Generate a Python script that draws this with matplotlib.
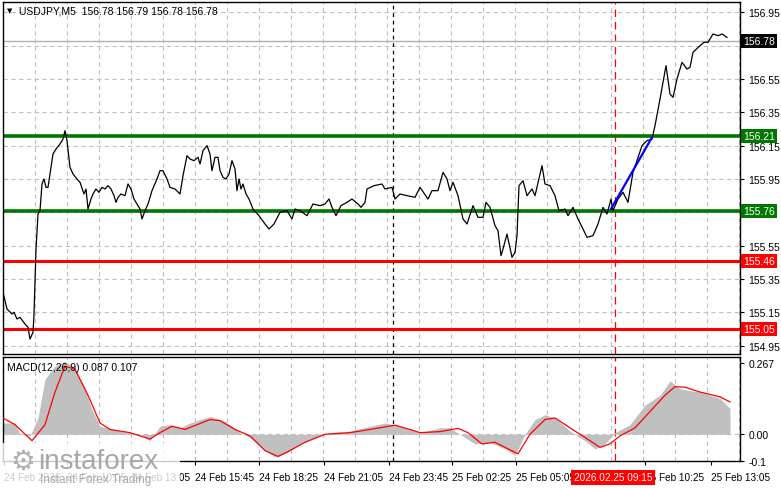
import numpy as np
import matplotlib.pyplot as plt
from matplotlib.patches import Rectangle

plt.rcParams['font.family'] = ['Liberation Sans', 'DejaVu Sans']

# === Price data (bar index, close) ===
bars = [1.5, 3.5, 6, 7, 8.5, 10, 12.5, 14, 15, 16.5, 17, 18, 19, 20, 21, 22, 23, 24, 25, 26.5,
        28, 30, 31.5, 32.5, 33.5, 35, 36.5, 38.5, 40, 42, 43, 44, 45.5, 46.5, 48, 49.5, 51, 52.5,
        54, 55.5, 57, 58, 59, 60.5, 62.5, 64, 65.5, 67, 68.5, 70, 71, 72.5, 74, 76, 78.5, 80, 81.5,
        83.5, 85, 87.5, 90, 91.5, 93.5, 95, 97, 99, 100, 101.5, 103.5, 105, 106, 107.5, 109, 110,
        111.5, 113, 114.5, 116, 117.5, 118.5, 119.5, 120.5, 121.5, 123, 124.5, 126.5, 129.5, 132.5,
        134.5, 137, 140, 143.5, 146, 147.5, 150, 153.5, 156.5, 160, 162.5, 164.5, 166, 168, 170.5,
        173.5, 176, 179, 180.5, 182.5, 183.5, 187, 191, 192.5, 196, 197.5, 200, 203.5, 207.5, 210,
        214, 216, 219, 221.5, 223.5, 225, 226.5, 229, 231.5, 233.5, 236.5, 239, 241.5, 243, 245,
        247.5, 249, 250.5, 251.5, 253.5, 256, 257.5, 258.5, 259.5, 261.5, 263.5, 266, 267.5, 271,
        272.5, 275, 277.5, 279.5, 282.5, 284, 286.5, 289, 291.5, 293.5, 296.5, 299, 301.5, 303.5,
        305.5, 306.5, 309, 311.5, 314, 316.5, 321, 323.5, 326, 327.5, 330, 333, 335, 336.5, 338.5,
        341, 343.5, 345, 346.5, 350, 352, 354, 356.5, 359, 361, 363.5]
close = [155.27, 155.17, 155.14, 155.15, 155.11, 155.12, 155.08, 155.06, 154.99, 155.03, 155.14,
         155.53, 155.74, 155.76, 155.92, 155.95, 155.90, 155.90, 155.98, 156.10, 156.13, 156.16,
         156.19, 156.24, 156.18, 156.02, 155.98, 155.95, 155.93, 155.86, 155.89, 155.77, 155.83,
         155.86, 155.89, 155.87, 155.90, 155.89, 155.91, 155.89, 155.85, 155.81, 155.84, 155.86,
         155.85, 155.92, 155.89, 155.83, 155.80, 155.77, 155.71, 155.76, 155.80, 155.88, 155.95,
         156.00, 156.00, 155.95, 155.90, 155.89, 155.86, 155.97, 156.09, 156.07, 156.06, 156.08,
         156.04, 156.12, 156.15, 156.10, 156.00, 156.08, 156.08, 156.00, 155.96, 155.95, 155.98,
         156.06, 156.01, 155.88, 155.95, 155.89, 155.92, 155.86, 155.83, 155.77, 155.73, 155.68,
         155.65, 155.68, 155.75, 155.76, 155.71, 155.77, 155.76, 155.73, 155.80, 155.79, 155.80,
         155.83, 155.78, 155.73, 155.79, 155.81, 155.83, 155.80, 155.78, 155.81, 155.89, 155.91,
         155.92, 155.89, 155.90, 155.83, 155.86, 155.85, 155.84, 155.90, 155.83, 155.88, 155.88,
         155.99, 155.95, 155.88, 155.93, 155.85, 155.71, 155.68, 155.79, 155.72, 155.72, 155.81,
         155.78, 155.67, 155.64, 155.49, 155.53, 155.62, 155.48, 155.51, 155.61, 155.91, 155.94,
         155.85, 155.89, 155.85, 156.03, 155.92, 155.91, 155.85, 155.76, 155.77, 155.73, 155.78,
         155.71, 155.65, 155.60, 155.61, 155.68, 155.78, 155.74, 155.83, 155.76, 155.83, 155.87,
         155.81, 155.99, 156.15, 156.18, 156.19, 156.27, 156.43, 156.63, 156.46, 156.44, 156.55,
         156.65, 156.61, 156.62, 156.71, 156.75, 156.77, 156.77, 156.82, 156.81, 156.82, 156.80]

# === MACD (bar index, value) ===
hist_bars = [0, 7.5, 10, 15, 19, 22.5, 27.5, 32.5, 37.5, 42.5, 46, 50, 60, 70, 75, 80, 85, 90, 95,
             105, 112.5, 120, 125, 132.5, 137.5, 142.5, 150, 157.5, 165, 175, 185, 192.5, 200, 210,
             220, 225, 232.5, 237.5, 245, 252.5, 257.5, 262.5, 267.5, 272.5, 277.5, 285, 292.5,
             297.5, 302.5, 307.5, 315, 322.5, 330, 335, 340, 350, 360, 365]
hist_vals = [0.042, 0.042, 0.0, -0.006, 0.061, 0.206, 0.255, 0.273, 0.249, 0.170, 0.091, 0.030,
             0.012, 0.0, -0.024, 0.030, 0.036, 0.024, 0.042, 0.067, 0.049, 0.006, -0.012, -0.061,
             -0.085, -0.073, -0.036, -0.012, 0.006, 0.012, 0.030, 0.042, 0.030, 0.006, 0.024, 0.024,
             -0.012, -0.036, -0.030, -0.055, -0.079, 0.0, 0.055, 0.073, 0.061, 0.012, -0.024,
             -0.055, -0.036, 0.006, 0.036, 0.109, 0.146, 0.200, 0.170, 0.158, 0.134, 0.097]
sig_bars = [0, 7.5, 16, 22.5, 27.5, 32.5, 37.5, 44, 50, 55, 65, 75, 80, 86, 92.5, 105, 110, 117.5,
            125, 132.5, 139, 145, 152.5, 162.5, 175, 185, 197.5, 205, 210, 220, 229, 234, 241,
            247.5, 252.5, 259, 265, 272.5, 277.5, 285, 292.5, 300, 305, 310, 317.5, 325, 332.5,
            337.5, 342.5, 350, 360, 365]
sig_vals = [0.067, 0.036, -0.024, 0.036, 0.158, 0.255, 0.243, 0.146, 0.042, 0.018, 0.006, -0.018,
            0.006, 0.030, 0.018, 0.055, 0.051, 0.018, -0.006, -0.061, -0.083, -0.061, -0.030, 0.0,
            0.006, 0.018, 0.034, 0.018, 0.006, 0.010, 0.022, 0.006, -0.036, -0.030, -0.049,
            -0.073, 0.0, 0.055, 0.061, 0.024, -0.012, -0.049, -0.036, -0.006, 0.024, 0.085, 0.146,
            0.178, 0.176, 0.158, 0.140, 0.121]

# === Levels / labels ===
green_levels = [156.21, 155.76]
red_levels = [155.46, 155.05]
last_price = 156.78
price_ticks = [156.95, 156.75, 156.55, 156.35, 156.15, 155.95, 155.75, 155.55, 155.35, 155.15, 154.95]
hidden_ticks = [156.75, 155.75]  # covered by the level boxes
trend_bars = [305.5, 326]
trend_prices = [155.77, 156.20]
time_bars = [2, 33.5, 65.5, 97.5, 129.5, 162, 194.5, 226, 258]
time_labels = ["24 Feb 2026", "24 Feb 10:05", "24 Feb 13:05", "24 Feb 15:45", "24 Feb 18:25",
               "24 Feb 21:05", "24 Feb 23:45", "25 Feb 02:25", "25 Feb 05:05"]
time_bars2 = [322.5, 355.5]
time_labels2 = ["25 Feb 10:25", "25 Feb 13:05"]
cursor_bar = 307.5
day_bar = 196.5

W, H = 781, 489
fig = plt.figure(figsize=(W / 100, H / 100), dpi=100)
ax = fig.add_axes([3 / W, 1 - 355 / H, 737 / W, 352 / H])
ax2 = fig.add_axes([3 / W, 1 - 462 / H, 737 / W, 104 / H])
XMIN, XMAX = 1.5, 370

grid_x = np.arange(17.5, XMAX, 16)
gkw = dict(color="#c0c0c0", linestyle=(0, (4, 3)), linewidth=0.8, zorder=0)

# --- main panel ---
for gx in grid_x:
    ax.axvline(gx, **gkw)
for p in price_ticks:
    ax.axhline(p, **gkw)
ax.axvline(day_bar, color="black", linestyle=(0, (3, 3)), linewidth=0.9, zorder=1)
ax.axvline(cursor_bar, color="red", linestyle=(0, (6, 4)), linewidth=0.9, zorder=1)
ax.axhline(last_price, color="#b0b0b0", linewidth=1, zorder=1)
for lv in green_levels:
    ax.axhline(lv, color="#007800", linewidth=2.6, zorder=2)
for lv in red_levels:
    ax.axhline(lv, color="#ff0000", linewidth=2.2, zorder=2)
ax.plot(bars, close, color="black", linewidth=0.9, zorder=3)
ax.plot(trend_bars, trend_prices, color="#0000ff", linewidth=1.6, zorder=4)
ax.set_xlim(XMIN, XMAX)
ax.set_ylim(154.90, 157.012)
ax.yaxis.tick_right()
ax.set_yticks(price_ticks)
ax.set_yticklabels(["" if p in hidden_ticks else f"{p:.2f}" for p in price_ticks], fontsize=7.5)
ax.tick_params(axis="y", length=3, pad=3)
ax.set_xticks([])

def price_box(a, y, text, color):
    a.text(1.004, y, text, transform=a.get_yaxis_transform(), fontsize=7.5, color="white",
           va="center", ha="left",
           bbox=dict(boxstyle="square,pad=0.2", fc=color, ec="none"), zorder=10)

price_box(ax, last_price, "156.78", "black")
for lv in green_levels:
    price_box(ax, lv, f"{lv:.2f}", "#007800")
for lv in red_levels:
    price_box(ax, lv, f"{lv:.2f}", "#ff0000")

ax.text(0.005, 0.985, "\u25bc", transform=ax.transAxes, fontsize=5, va="top", ha="left",
        family="DejaVu Sans")
ax.text(0.022, 0.99, "USDJPY,M5  156.78 156.79 156.78 156.78", transform=ax.transAxes,
        fontsize=7.5, va="top", ha="left")

# --- MACD panel ---
for gx in grid_x:
    ax2.axvline(gx, **gkw)
ax2.axhline(0, **gkw)
ax2.axvline(day_bar, color="black", linestyle=(0, (3, 3)), linewidth=0.9, zorder=1)
ax2.axvline(cursor_bar, color="red", linestyle=(0, (6, 4)), linewidth=0.9, zorder=1)
ax2.fill_between(hist_bars, 0, hist_vals, color="#c0c0c0", linewidth=0, zorder=2)
ax2.plot(sig_bars, sig_vals, color="red", linewidth=0.9, zorder=3)
ax2.set_xlim(XMIN, XMAX)
ax2.set_ylim(-0.087, 0.289)
ax2.yaxis.tick_right()
ax2.set_yticks([0.267, 0.0, -0.1])
ax2.set_yticklabels(["0.267", "0.00", "-0.1"], fontsize=7.5)
ax2.tick_params(axis="y", length=3, pad=3)
ax2.set_xticks(time_bars + time_bars2)
ax2.set_xticklabels([""] * (len(time_bars) + len(time_bars2)))
ax2.tick_params(axis="x", length=3)
ax2.text(0.005, 0.95, "MACD(12,26,9) 0.087 0.107", transform=ax2.transAxes, fontsize=7.5,
         va="top", ha="left")
for b, t in zip(time_bars + time_bars2, time_labels + time_labels2):
    ax2.text(b, -0.16, t, fontsize=7.2, ha="left", va="center", clip_on=False)
ax2.text(cursor_bar - 1, -0.16, "2026.02.25 09:15", fontsize=7.2, color="white", ha="center",
         va="center", bbox=dict(boxstyle="square,pad=0.25", fc="#ff0000", ec="none"), zorder=10)

for a in (ax, ax2):
    for s in a.spines.values():
        s.set_linewidth(1)
        s.set_color("black")

# --- watermark logo ---
fig.patches.append(Rectangle((0, 0), 180 / W, 45 / H, transform=fig.transFigure,
                             fc="white", ec="none", alpha=0.8, zorder=20))
fig.text(10 / W, 1 - 462 / H, "\u2699", fontsize=20, color="#b0b0b0", va="center", zorder=21,
         family="DejaVu Sans")
fig.text(38 / W, 1 - 462 / H, "instaforex", fontsize=20, color="#a8a8a8", va="center", zorder=21)
fig.text(40 / W, 1 - 480 / H, "Instant Forex Trading", fontsize=8.5, color="#a8a8a8",
         va="center", zorder=21)

fig.savefig("out.png", dpi=100)
